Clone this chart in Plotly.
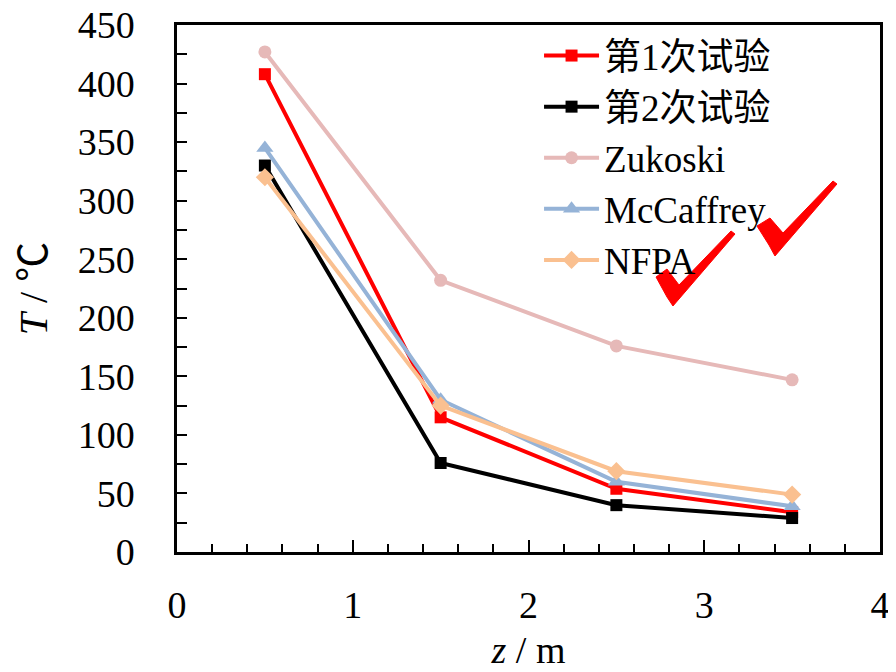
import plotly.graph_objects as go

z = [0.5, 1.5, 2.5, 3.5]
test1 = [408, 115, 54, 34]
test2 = [330, 76, 40, 29]
zukoski = [427, 232, 176, 147]
mccaffrey = [345, 130, 60, 39]
nfpa = [320, 125, 69, 49]

series = [
    ("第1次试验", test1, "#FF0000", "square", 12),
    ("第2次试验", test2, "#000000", "square", 12),
    ("Zukoski", zukoski, "#E6B9B8", "circle", 13),
    ("McCaffrey", mccaffrey, "#95B3D7", "triangle-up", 15),
    ("NFPA", nfpa, "#FAC090", "diamond", 14),
]

FONT = "Liberation Serif, 'Times New Roman', 'Noto Sans CJK SC', serif"
FS = 38

fig = go.Figure()
for name, vals, color, sym, size in series:
    fig.add_trace(go.Scatter(
        x=z, y=vals, name=name, mode="lines+markers",
        line=dict(color=color, width=4),
        marker=dict(color=color, symbol=sym, size=size),
    ))

# page has an 8px body margin; figure coords = window coords - 8
OFF = 8
W, H = 896, 672
# plot area in window pixels: x 177..880, y 25..552
L, R, T, B = 177, 880, 25, 552
def px(x, y):
    return ((x - L) / (R - L), (B - y) / (B - T))

def path(pts):
    s = ""
    for i, (x, y) in enumerate(pts):
        X, Y = px(x, y)
        s += ("M" if i == 0 else "L") + f"{X:.4f},{Y:.4f} "
    return s + "Z"

check1 = [(656, 277), (667, 269), (679, 285), (731, 231), (735, 234), (673, 306), (667, 297)]
check2 = [(757, 226), (770, 218), (783, 233), (833, 181), (837, 184), (775, 256), (769, 245)]
shapes = []
for c in (check1, check2):
    shapes.append(dict(type="path", xref="paper", yref="paper", path=path(c),
                       fillcolor="#FF0000", line=dict(color="#FF0000", width=1), layer="above"))

fig.update_layout(
    width=W, height=H,
    margin=dict(l=L - OFF, r=W - (R - OFF), t=T - OFF, b=H - (B - OFF), autoexpand=False),
    paper_bgcolor="white", plot_bgcolor="white",
    font=dict(family=FONT, size=FS, color="black"),
    showlegend=True,
    legend=dict(x=0.515, y=1.0, xanchor="left", yanchor="top",
                bgcolor="rgba(0,0,0,0)", font=dict(size=37, family=FONT),
                tracegroupgap=0, itemwidth=55),
    shapes=shapes,
    xaxis=dict(range=[0, 4], dtick=1, tick0=0, showgrid=False, zeroline=False,
               automargin=False, ticklabeloverflow="allow",
               showline=True, linecolor="black", linewidth=2.5, mirror=True,
               ticks="inside", ticklen=12, tickwidth=2, tickcolor="black",
               minor=dict(dtick=0.2, ticks="inside", ticklen=8, tickwidth=2, tickcolor="black"),
               tickfont=dict(size=FS), ticklabelstandoff=18,
               title=dict(text="<i>z</i> / m", font=dict(size=FS), standoff=12)),
    yaxis=dict(range=[0, 450], dtick=50, tick0=0, showgrid=False, zeroline=False,
               automargin=False, ticklabeloverflow="allow",
               showline=True, linecolor="black", linewidth=2.5, mirror=True,
               ticks="inside", ticklen=10, tickwidth=2, tickcolor="black",
               minor=dict(dtick=25, ticks="inside", ticklen=10, tickwidth=2, tickcolor="black"),
               tickfont=dict(size=FS), ticklabelstandoff=32,
               title=dict(text="<i>T</i> / ℃", font=dict(size=40), standoff=18)),
)

fig.write_html("out.html")
